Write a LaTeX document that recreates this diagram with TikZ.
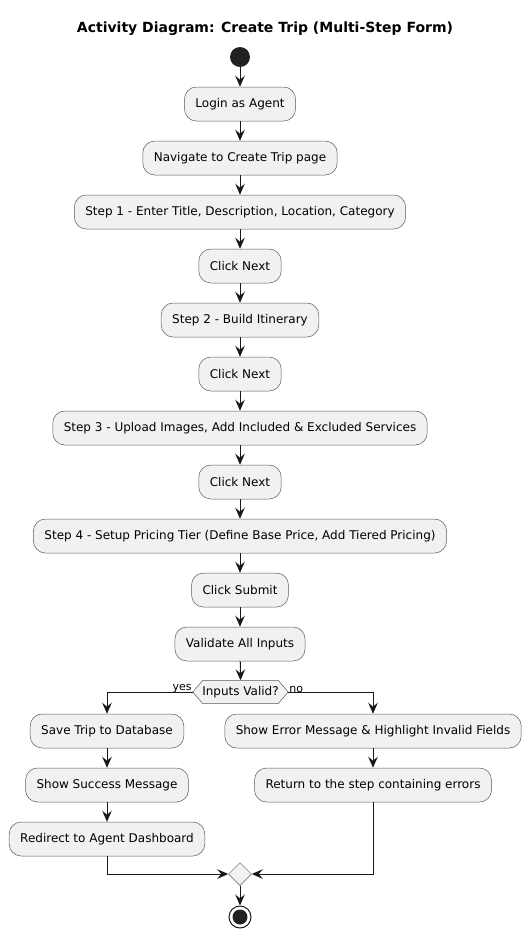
\documentclass[tikz,border=0pt]{standalone}
\usepackage{fontspec}
\setmainfont{DejaVu Sans}
\usetikzlibrary{arrows.meta,shapes.geometric,backgrounds}
\definecolor{boxfill}{HTML}{F1F1F1}
\definecolor{boxline}{HTML}{5A5A5A}
\definecolor{ink}{HTML}{181818}
\definecolor{dot}{HTML}{222222}
\tikzset{
  act/.style={rectangle, rounded corners=12pt, fill=boxfill, draw=boxline, line width=0.5pt,
    minimum height=34pt, inner xsep=11pt, inner ysep=0pt, font=\fontsize{12}{14}\selectfont, text=black},
  arr/.style={draw=ink, line width=1pt, -{Stealth[length=11pt,width=9.5pt,inset=4pt]}},
  ln/.style={draw=ink, line width=1pt},
  lbl/.style={font=\fontsize{11}{13}\selectfont, inner sep=0pt, text=black}
}
\begin{document}
\begin{tikzpicture}[x=1pt,y=-1pt]
\useasboundingbox (0,0) rectangle (531,938);
\node[font=\bfseries\fontsize{14}{16}\selectfont] (title) at (265,29) {Activity Diagram: Create Trip (Multi-Step Form)};
\node[circle, fill=dot, minimum size=20pt, inner sep=0pt] (start) at (240,57) {};
\node[act] (login) at (240,104) {Login as Agent};
\node[act] (nav) at (240,158) {Navigate to Create Trip page};
\node[act] (s1) at (240,212) {Step 1 - Enter Title, Description, Location, Category};
\node[act] (n1) at (240,266) {Click Next};
\node[act] (s2) at (240,320) {Step 2 - Build Itinerary};
\node[act] (n2) at (240,374) {Click Next};
\node[act] (s3) at (240,428) {Step 3 - Upload Images, Add Included \& Excluded Services};
\node[act] (n3) at (240,482) {Click Next};
\node[act] (s4) at (240,536) {Step 4 - Setup Pricing Tier (Define Base Price, Add Tiered Pricing)};
\node[act] (submit) at (240,590) {Click Submit};
\node[act] (valid) at (240,644) {Validate All Inputs};
\node[minimum width=95pt, minimum height=23pt, inner sep=0pt, font=\fontsize{12}{14}\selectfont] (hex) at (240.5,692) {Inputs Valid?};
\begin{scope}[on background layer]
\filldraw[fill=boxfill, draw=boxline, line width=0.5pt] (hex.west) -- ([xshift=10pt]hex.north west) -- ([xshift=-10pt]hex.north east) -- (hex.east) -- ([xshift=-10pt]hex.south east) -- ([xshift=10pt]hex.south west) -- cycle;
\end{scope}
\node[act] (save) at (107,731) {Save Trip to Database};
\node[act] (succ) at (107,785) {Show Success Message};
\node[act] (redir) at (107,839) {Redirect to Agent Dashboard};
\node[act] (err) at (373,731) {Show Error Message \& Highlight Invalid Fields};
\node[act] (ret) at (373,785) {Return to the step containing errors};
\node[diamond, fill=boxfill, draw=boxline, line width=0.5pt, minimum width=23pt, minimum height=23pt, inner sep=0pt] (merge) at (240,874) {};
\node[circle, draw=ink, line width=1pt, fill=white, minimum size=22pt, inner sep=0pt] (end) at (240,917) {};
\node[circle, fill=dot, minimum size=15pt, inner sep=0pt] (enddot) at (240,917) {};
\node[lbl, anchor=south east] (yes) at ([xshift=-1pt,yshift=-1pt]hex.west) {yes};
\node[lbl, anchor=south west] (no) at ([xshift=1pt,yshift=-1pt]hex.east) {no};
\draw[arr] (start) -- (login);
\draw[arr] (login) -- (nav);
\draw[arr] (nav) -- (s1);
\draw[arr] (s1) -- (n1);
\draw[arr] (n1) -- (s2);
\draw[arr] (s2) -- (n2);
\draw[arr] (n2) -- (s3);
\draw[arr] (s3) -- (n3);
\draw[arr] (n3) -- (s4);
\draw[arr] (s4) -- (submit);
\draw[arr] (submit) -- (valid);
\draw[arr] (valid) -- (hex.north);
\draw[arr] (hex.west) -| (save.north);
\draw[arr] (hex.east) -| (err.north);
\draw[arr] (save) -- (succ);
\draw[arr] (succ) -- (redir);
\draw[arr] (err) -- (ret);
\draw[arr] (redir.south) |- (merge.west);
\draw[arr] (ret.south) |- (merge.east);
\draw[arr] (merge) -- (end);
\end{tikzpicture}
\end{document}
